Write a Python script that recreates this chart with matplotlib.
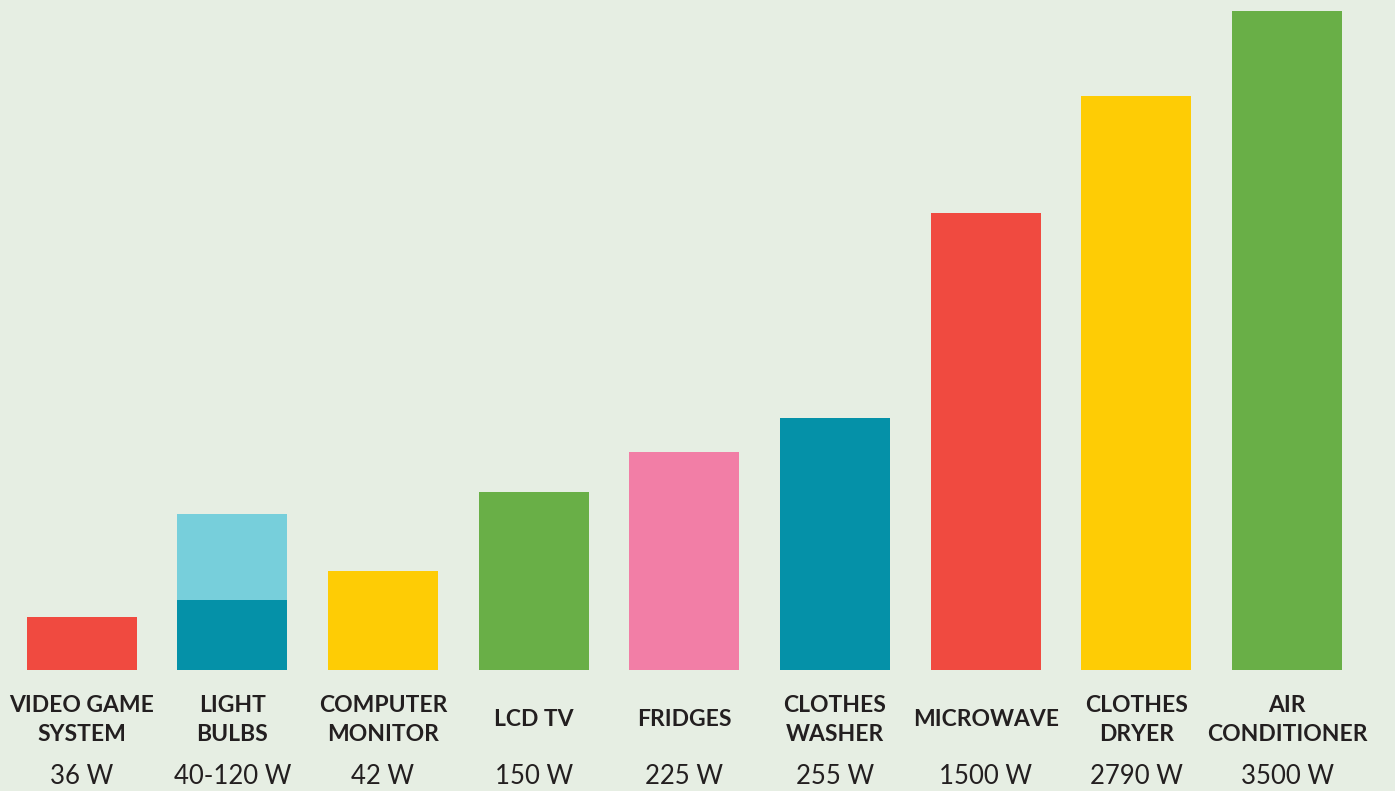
import matplotlib
matplotlib.use("Agg")
import matplotlib.pyplot as plt
import numpy as np

# appliance names, wattage labels and the bar heights as drawn (not to scale with watts)
names = ["VIDEO GAME\nSYSTEM", "LIGHT\nBULBS", "COMPUTER\nMONITOR", "LCD TV", "FRIDGES",
         "CLOTHES\nWASHER", "MICROWAVE", "CLOTHES\nDRYER", "AIR\nCONDITIONER"]
watts = ["36 W", "40-120 W", "42 W", "150 W", "225 W", "255 W", "1500 W", "2790 W", "3500 W"]
heights = [53, 70, 99, 178, 218, 252, 457, 574, 659]
bulb_high = 156   # upper end of the light bulb range
colors = ["#F04A40", "#0591A8", "#FECC05", "#69AF47", "#F27EA6",
          "#0591A8", "#F04A40", "#FECC05", "#69AF47"]
bulb_high_color = "#77CFDB"

bg = "#E6EEE3"
ink = "#231F20"

fig = plt.figure(figsize=(13.95, 7.91), dpi=100, facecolor=bg)
ax = fig.add_axes([0, 121 / 791, 1, 670 / 791])
ax.set_facecolor(bg)

x = np.arange(len(names))
# light bulb range drawn behind
ax.bar(x[1], bulb_high, width=0.73, color=bulb_high_color, zorder=1)
ax.bar(x, heights, width=0.73, color=colors, zorder=2)

for xi, n, w in zip(x, names, watts):
    ax.text(xi, -50, n, ha="center", va="center", fontsize=16.5, fontweight="bold",
            family="Lato", color=ink, linespacing=1.45, clip_on=False)
    ax.text(xi, -107, w, ha="center", va="center", fontsize=18.5,
            family="Lato", color=ink, clip_on=False)

ax.set_xlim(-0.541, 8.716)
ax.set_ylim(0, 670)
ax.axis("off")

fig.savefig("out.png", dpi=100, facecolor=bg)
